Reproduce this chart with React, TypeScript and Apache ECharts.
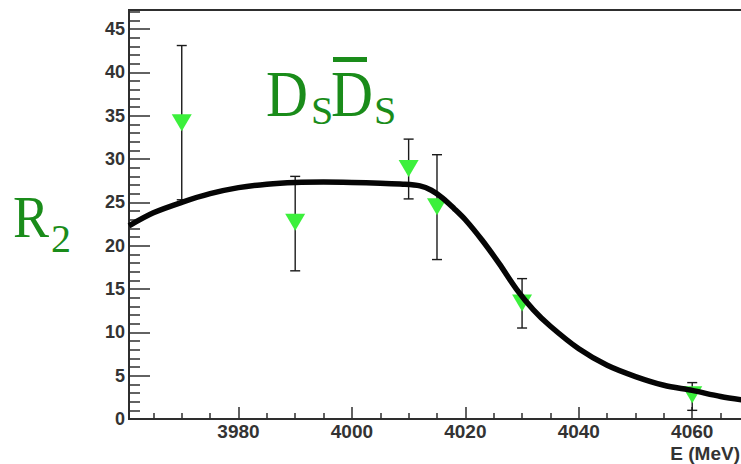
import React, { useEffect, useRef } from "react";
import * as echarts from "echarts";

// Measured points (E in MeV, R2) with error bar ends
const energies = [3970, 3990, 4010, 4015, 4030, 4060];
const ratios = [34.2, 22.7, 28.9, 24.5, 13.4, 2.8];
const errLow = [25.3, 17.1, 25.4, 18.4, 10.5, 1.0];
const errHigh = [43.1, 28.0, 32.3, 30.5, 16.2, 4.2];

// Fitted curve
const fitE = [3960.7, 3965, 3970, 3975, 3980, 3985, 3990, 3995, 4000, 4005, 4009, 4012, 4014, 4016, 4018, 4020, 4023, 4026, 4029, 4032, 4035, 4040, 4045, 4050, 4055, 4060, 4065, 4070];
const fitR = [22.3, 23.8, 25.0, 26.0, 26.7, 27.1, 27.3, 27.35, 27.3, 27.2, 27.1, 26.9, 26.4, 25.5, 24.3, 23.0, 20.6, 17.9, 15.0, 12.6, 10.7, 8.1, 6.2, 4.9, 3.9, 3.3, 2.6, 2.1];

const xMajorTicks = [3980, 4000, 4020, 4040, 4060];
const xMinorTicks = [3965, 3970, 3975, 3985, 3990, 3995, 4005, 4010, 4015, 4025, 4030, 4035, 4045, 4050, 4055, 4065];
const yMajorTicks = [0, 5, 10, 15, 20, 25, 30, 35, 40, 45];
const yMinorTicks = [1, 2, 3, 4, 6, 7, 8, 9, 11, 12, 13, 14, 16, 17, 18, 19, 21, 22, 23, 24, 26, 27, 28, 29, 31, 32, 33, 34, 36, 37, 38, 39, 41, 42, 43, 44, 46, 47];

const X_MIN = 3960.7;
const X_MAX = 4072;
const Y_MIN = 0;
const Y_MAX = 47.2;

const GREEN_TEXT = "#1a8c1a";
const AXIS_COLOR = "#2e2e2e";

export default function App() {
  const ref = useRef<HTMLDivElement>(null);

  useEffect(() => {
    if (!ref.current) return;
    const chart = echarts.init(ref.current, null, { renderer: "svg" });
    const labelFont = {
      fontFamily: "Liberation Sans, Arial, sans-serif",
      fontWeight: "bold" as const,
      color: "#333",
    };
    const option: any = {
      animation: false,
      backgroundColor: "#fff",
      grid: {
        left: 129,
        top: 10,
        width: (X_MAX - X_MIN) * 5.672,
        height: 409,
        show: true,
        borderColor: AXIS_COLOR,
        borderWidth: 2,
        backgroundColor: "transparent",
        containLabel: false,
        outerBoundsMode: "none",
      },
      xAxis: [
        {
          type: "value",
          min: X_MIN,
          max: X_MAX,
          position: "bottom",
          axisLine: { show: true, onZero: false, lineStyle: { color: AXIS_COLOR, width: 2 } },
          axisTick: { show: true, inside: true, length: 12, customValues: xMajorTicks, lineStyle: { color: AXIS_COLOR, width: 1.5 } },
          axisLabel: { show: true, customValues: xMajorTicks, fontSize: 19, margin: 3, formatter: (v: number) => String(v), ...labelFont },
          splitLine: { show: false },
        },
        {
          type: "value",
          min: X_MIN,
          max: X_MAX,
          position: "bottom",
          axisLine: { show: false, onZero: false },
          axisTick: { show: true, inside: true, length: 6, customValues: xMinorTicks, lineStyle: { color: AXIS_COLOR, width: 1.5 } },
          axisLabel: { show: false },
          splitLine: { show: false },
        },
      ],
      yAxis: [
        {
          type: "value",
          min: Y_MIN,
          max: Y_MAX,
          position: "left",
          axisLine: { show: true, onZero: false, lineStyle: { color: AXIS_COLOR, width: 2 } },
          axisTick: { show: true, inside: true, length: 21, customValues: yMajorTicks, lineStyle: { color: AXIS_COLOR, width: 1.5 } },
          axisLabel: { show: true, customValues: yMajorTicks, fontSize: 18, margin: 4, formatter: (v: number) => String(v), ...labelFont },
          splitLine: { show: false },
        },
        {
          type: "value",
          min: Y_MIN,
          max: Y_MAX,
          position: "left",
          axisLine: { show: false, onZero: false },
          axisTick: { show: true, inside: true, length: 11, customValues: yMinorTicks, lineStyle: { color: AXIS_COLOR, width: 1.5 } },
          axisLabel: { show: false },
          splitLine: { show: false },
        },
      ],
      series: [
        {
          type: "custom",
          xAxisIndex: 0,
          yAxisIndex: 0,
          z: 2,
          encode: { x: 0, y: [1, 2] },
          data: energies.map((e, i) => [e, errLow[i], errHigh[i]]),
          renderItem: (_params: any, api: any) => {
            const x = api.value(0);
            const lo = api.coord([x, api.value(1)]);
            const hi = api.coord([x, api.value(2)]);
            const style = { stroke: "#1a1a1a", lineWidth: 1.4 };
            return {
              type: "group",
              children: [
                { type: "line", shape: { x1: lo[0], y1: lo[1], x2: hi[0], y2: hi[1] }, style },
                { type: "line", shape: { x1: hi[0] - 5, y1: hi[1], x2: hi[0] + 5, y2: hi[1] }, style },
                { type: "line", shape: { x1: lo[0] - 5, y1: lo[1], x2: lo[0] + 5, y2: lo[1] }, style },
              ],
            };
          },
        },
        {
          type: "scatter",
          xAxisIndex: 0,
          yAxisIndex: 0,
          z: 3,
          symbol: "triangle",
          symbolRotate: 180,
          symbolSize: [20, 17],
          itemStyle: { color: "#3cf03c", opacity: 1 },
          data: energies.map((e, i) => [e, ratios[i]]),
        },
        {
          type: "line",
          xAxisIndex: 0,
          yAxisIndex: 0,
          z: 4,
          smooth: 0.3,
          showSymbol: false,
          symbol: "none",
          lineStyle: { color: "#050505", width: 5.5 },
          data: fitE.map((e, i) => [e, fitR[i]]),
        },
      ],
      graphic: [
        {
          type: "text",
          x: 13,
          y: 217,
          scaleX: 0.9,
          style: { text: "R", font: "60px 'Liberation Serif', serif", fill: GREEN_TEXT, textAlign: "left", textVerticalAlign: "middle" },
        },
        {
          type: "text",
          x: 51,
          y: 238,
          style: { text: "2", font: "40px 'Liberation Serif', serif", fill: GREEN_TEXT, textAlign: "left", textVerticalAlign: "middle" },
        },
        {
          type: "text",
          x: 266,
          y: 94,
          scaleX: 0.88,
          style: { text: "D", font: "66px 'Liberation Serif', serif", fill: GREEN_TEXT, textAlign: "left", textVerticalAlign: "middle" },
        },
        {
          type: "text",
          x: 311,
          y: 110,
          style: { text: "S", font: "40px 'Liberation Serif', serif", fill: GREEN_TEXT, textAlign: "left", textVerticalAlign: "middle" },
        },
        {
          type: "text",
          x: 331,
          y: 94,
          scaleX: 0.88,
          style: { text: "D", font: "66px 'Liberation Serif', serif", fill: GREEN_TEXT, textAlign: "left", textVerticalAlign: "middle" },
        },
        {
          type: "text",
          x: 374,
          y: 110,
          style: { text: "S", font: "40px 'Liberation Serif', serif", fill: GREEN_TEXT, textAlign: "left", textVerticalAlign: "middle" },
        },
        {
          type: "rect",
          shape: { x: 333, y: 57, width: 34, height: 5 },
          style: { fill: GREEN_TEXT },
        },
        {
          type: "text",
          x: 740,
          y: 453,
          style: { text: "E (MeV)", font: "bold 19px 'Liberation Sans', Arial, sans-serif", fill: "#333", textAlign: "right", textVerticalAlign: "middle" },
        },
      ],
    };
    chart.setOption(option);
    return () => chart.dispose();
  }, []);

  return (
    <div
      ref={ref}
      style={{ position: "absolute", left: 0, top: 0, width: 741, height: 464, overflow: "hidden" }}
    />
  );
}
